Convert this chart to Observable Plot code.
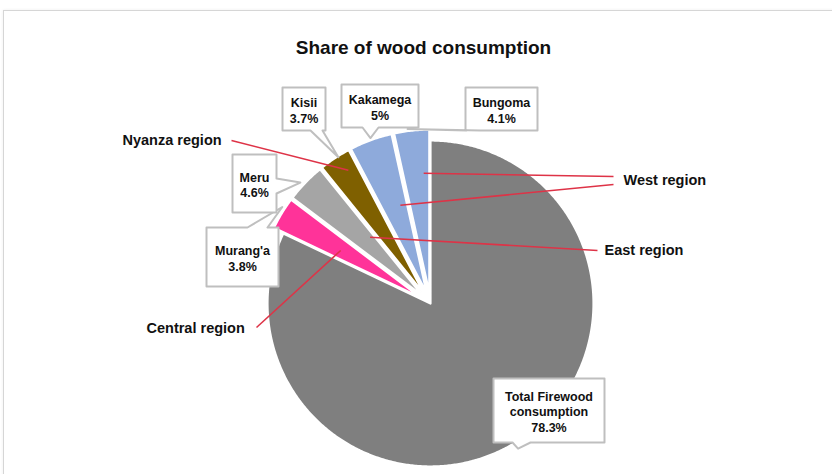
<!DOCTYPE html>
<html><head><meta charset="utf-8">
<script src="https://cdn.jsdelivr.net/npm/d3@7"></script>
<script src="https://cdn.jsdelivr.net/npm/@observablehq/plot@0.6"></script>
<style>
html,body{margin:0;padding:0;background:#fff;}
#wrap{position:relative;width:832px;height:474px;overflow:hidden;font-family:"Liberation Sans",Arial,sans-serif;}
#frame{position:absolute;left:3px;top:10px;width:900px;height:600px;border:1px solid #d6d6d6;box-shadow:0 0 3px rgba(0,0,0,0.07);}
#chart{position:absolute;left:0;top:0;}
</style></head><body>
<div id="wrap"><div id="frame"></div><div id="chart"></div></div>
<script>
// ---- data ----
const title = "Share of wood consumption";
const names = ["Total Firewood consumption", "Murang'a", "Meru", "Kisii", "Kakamega", "Bungoma"];
const boxNames = ["Total Firewood\nconsumption", "Murang'a", "Meru", "Kisii", "Kakamega", "Bungoma"];
const pctLabels = [78.3, 3.8, 4.6, 3.7, 5, 4.1];          // printed percentages
const sliceSizes = [97, 3.8, 4.6, 3.7, 5, 4.1];           // slice sizes as drawn in the reference
const regions = [null, "Central region", "East region", "Nyanza region", "West region", "West region"];

// ---- styles / layout ----
const colors = ["#7f7f7f", "#ff3399", "#a5a5a5", "#7f6000", "#8eaadb", "#8eaadb"];
const W = 832, H = 474, CX = 430, CY = 303, R = 163, EXPLODE = 0.067;
const toUnit = ([px, py]) => ({x: (px - CX) / R, y: (CY - py) / R});
const toPx = (ux, uy) => [CX + ux * R, CY - uy * R];

const arcs = d3.pie().sort(null).startAngle(0).endAngle(2 * Math.PI)(sliceSizes);
const angleAt = (i, t) => arcs[i].startAngle + t * (arcs[i].endAngle - arcs[i].startAngle);

// slice polygons
const sliceRows = [];
arcs.forEach((a, i) => {
  const e = i === 0 ? 0 : EXPLODE;
  const mid = (a.startAngle + a.endAngle) / 2;
  const ox = e * Math.sin(mid), oy = e * Math.cos(mid);
  sliceRows.push({name: names[i], x: ox, y: oy});
  const n = Math.max(4, Math.ceil((a.endAngle - a.startAngle) / (Math.PI / 360)));
  for (let k = 0; k <= n; k++) {
    const ang = a.startAngle + (k / n) * (a.endAngle - a.startAngle);
    sliceRows.push({name: names[i], x: ox + Math.sin(ang), y: oy + Math.cos(ang)});
  }
});

// callout boxes (pixel layout)
const calloutLayout = [
  {box: [493, 378, 604, 442], side: "bottom", base: [512, 530], t: 0.504, r: 1.04},
  {box: [206, 227, 278, 286], side: "top", base: [247, 267], t: 0.66, r: 1.085},
  {box: [232, 154, 276, 212], side: "right", base: [178, 193], t: 0.42, r: 1.09},
  {box: [282, 87, 325, 130], side: "bottom", base: [310, 322], t: 0.6, r: 1.06},
  {box: [341, 84, 418, 127], side: "bottom", base: [362, 378], t: 0.51, r: 1.08},
  {box: [465, 87, 537, 130], side: "bottom", base: [466, 480], t: 0.4, r: 1.08}
];
function calloutPath(b, side, base, tip) {
  const [x1, y1, x2, y2] = b;
  const pts = [[x1, y1]];
  if (side === "top") pts.push([base[0], y1], tip, [base[1], y1]);
  pts.push([x2, y1]);
  if (side === "right") pts.push([x2, base[0]], tip, [x2, base[1]]);
  pts.push([x2, y2]);
  if (side === "bottom") pts.push([base[1], y2], tip, [base[0], y2]);
  pts.push([x1, y2]);
  if (side === "left") pts.push([x1, base[1]], tip, [x1, base[0]]);
  return pts;
}
const calloutRows = [], calloutText = [];
calloutLayout.forEach((c, i) => {
  const a = angleAt(i, c.t);
  const tip = toPx(c.r * Math.sin(a), c.r * Math.cos(a));
  calloutPath(c.box, c.side, c.base, tip).forEach(p => calloutRows.push({name: names[i], ...toUnit(p)}));
  const [x1, y1, x2, y2] = c.box;
  calloutText.push({...toUnit([(x1 + x2) / 2, (y1 + y2) / 2 + 1]), text: `${boxNames[i]}\n${pctLabels[i]}%`});
});

// region labels and leader lines
const regionPos = {"Nyanza region": [122, 140], "Central region": [146, 328], "East region": [604, 250], "West region": [623, 180]};
const leaderLayout = [
  null,
  {from: [256, 327], t: 0.44, r: 0.64},
  {from: [597, 250], t: 0.76, r: 0.55},
  {from: [231, 140], t: 0.65, r: 0.96},
  {from: [613, 184], t: 0.70, r: 0.63},
  {from: [613, 176], t: 0.76, r: 0.80}
];
const regionText = Object.entries(regionPos).map(([k, p]) => ({text: k, ...toUnit(p)}));
const leaders = [];
leaderLayout.forEach((l, i) => {
  if (!l || !regions[i]) return;
  const a = angleAt(i, l.t);
  const s = toUnit(l.from);
  leaders.push({x1: s.x, y1: s.y, x2: l.r * Math.sin(a), y2: l.r * Math.cos(a)});
});

const bold = "bold";
const chart = Plot.plot({
  width: W, height: H,
  margin: 0,
  style: {fontFamily: "'Liberation Sans', Arial, sans-serif", background: "transparent", overflow: "visible"},
  x: {domain: [-CX / R, (W - CX) / R], axis: null},
  y: {domain: [(CY - H) / R, CY / R], axis: null},
  color: {domain: names, range: colors},
  marks: [
    Plot.line(sliceRows, {x: "x", y: "y", z: "name", fill: "name", stroke: "white", strokeWidth: 2.2, curve: "linear-closed"}),
    Plot.link(leaders, {x1: "x1", y1: "y1", x2: "x2", y2: "y2", stroke: "#de3347", strokeWidth: 1.6}),
    Plot.line(calloutRows, {x: "x", y: "y", z: "name", fill: "white", stroke: "#bfbfbf", strokeWidth: 2, curve: "linear-closed"}),
    Plot.text(calloutText, {x: "x", y: "y", text: "text", fontSize: 12.5, fontWeight: bold, lineHeight: 1.24, fill: "#111"}),
    Plot.text(regionText, {x: "x", y: "y", text: "text", fontSize: 14.5, fontWeight: bold, textAnchor: "start", fill: "#111"}),
    Plot.text([title], {x: toUnit([423, 47]).x, y: toUnit([423, 47]).y, text: d => d, fontSize: 19, fontWeight: bold, fill: "#111"})
  ]
});
document.getElementById("chart").appendChild(chart);
</script>
</body></html>
